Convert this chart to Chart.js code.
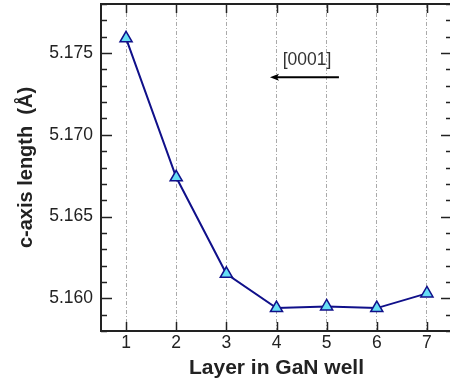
<!DOCTYPE html>
<html>
<head>
<meta charset="utf-8">
<script src="https://cdn.jsdelivr.net/npm/chart.js"></script>
<style>
html,body{margin:0;padding:0;background:#fff;overflow:hidden;}
#wrap{width:455px;height:385px;}
</style>
</head>
<body>
<div id="wrap"><canvas id="c" width="455" height="385"></canvas></div>
<script>
// -------- data --------
const layers = ['1', '2', '3', '4', '5', '6', '7'];
const cAxis = [5.1759, 5.1674, 5.1615, 5.1594, 5.1595, 5.1594, 5.1603];
const yRange = [5.158, 5.178];
const yStep = 0.001;          // one tick mark per step, label every 5th
const arrowFrom = [4.245, 5.17352];   // [layer index, c value]
const arrowTo = [2.87, 5.17352];
const arrowText = '[0001]';
const arrowTextAt = [3.61, 5.17455];

const FONT = "'Liberation Sans', Arial, sans-serif";
const INK = '#222';

// ticks pointing inward on all four sides + frame + the [0001] arrow
const framePlugin = {
    id: 'frame',
    afterDraw(chart){
        const {ctx, chartArea: a, scales: {x, y}} = chart;
        const seg = (x1, y1, x2, y2) => { ctx.beginPath(); ctx.moveTo(x1, y1); ctx.lineTo(x2, y2); ctx.stroke(); };
        ctx.save();
        ctx.strokeStyle = INK;
        ctx.lineWidth = 1.5;
        y.ticks.forEach(t => {
            const py = Math.round(y.getPixelForValue(t.value)) + 0.5;
            const major = Math.round(t.value * 1000) % 5 === 0;
            const len = major ? 11 : 6;
            seg(a.left, py, a.left + len, py);
            seg(a.right, py, a.right - len, py);
        });
        x.ticks.forEach((t, i) => {
            const px = Math.round(x.getPixelForTick(i)) + 0.5;
            seg(px, a.top, px, a.top + 9);
            seg(px, a.bottom, px, a.bottom - 9);
        });
        ctx.lineWidth = 2;
        ctx.strokeRect(a.left, a.top, a.right - a.left, a.bottom - a.top);

        // arrow
        const x1 = x.getPixelForValue(arrowFrom[0]), y1 = y.getPixelForValue(arrowFrom[1]);
        const x2 = x.getPixelForValue(arrowTo[0]), y2 = y.getPixelForValue(arrowTo[1]);
        ctx.fillStyle = '#000';
        ctx.strokeStyle = '#000';
        ctx.lineWidth = 2;
        seg(x1, y1, x2 + 6, y2);
        ctx.beginPath();
        ctx.moveTo(x2, y2);
        ctx.lineTo(x2 + 9, y2 - 3.5);
        ctx.lineTo(x2 + 7, y2);
        ctx.lineTo(x2 + 9, y2 + 3.5);
        ctx.closePath();
        ctx.fill();

        ctx.fillStyle = '#333';
        ctx.font = '17.5px ' + FONT;
        ctx.textAlign = 'center';
        ctx.textBaseline = 'middle';
        ctx.fillText(arrowText, x.getPixelForValue(arrowTextAt[0]), y.getPixelForValue(arrowTextAt[1]));
        ctx.restore();
    }
};

new Chart(document.getElementById('c'), {
    type: 'line',
    data: {
        labels: layers,
        datasets: [{
            data: cAxis,
            borderColor: '#10108a',
            borderWidth: 2,
            tension: 0,
            pointStyle: 'triangle',
            pointRadius: 7,
            pointHoverRadius: 7,
            pointBackgroundColor: '#66def5',
            pointBorderColor: '#10108a',
            pointBorderWidth: 1.5,
            clip: false
        }]
    },
    options: {
        responsive: false,
        animation: false,
        events: [],
        layout: {autoPadding: false, padding: {top: 4, right: 3, left: 0, bottom: 0}},
        plugins: {legend: {display: false}, tooltip: {enabled: false}},
        scales: {
            x: {
                type: 'category',
                offset: true,
                grid: {offset: false, color: '#aaa', lineWidth: 1, drawTicks: false},
                border: {display: false, dash: [4, 2, 1, 2]},
                ticks: {color: INK, padding: 2, font: {family: FONT, size: 17.5}, maxRotation: 0},
                title: {display: true, text: 'Layer in GaN well', color: INK,
                        font: {family: FONT, size: 21, weight: 'bold'}, padding: {top: 0, bottom: 4}},
                afterFit: s => { s.height = 54; s.paddingLeft = 0; s.paddingRight = 0; }
            },
            y: {
                min: yRange[0],
                max: yRange[1],
                grid: {display: false, drawTicks: false},
                border: {display: false},
                ticks: {
                    stepSize: yStep,
                    maxTicksLimit: 100,
                    autoSkip: false,
                    color: INK,
                    padding: 8,
                    font: {family: FONT, size: 17.5},
                    callback: v => Math.round(v * 1000) % 5 === 0 ? v.toFixed(3) : ''
                },
                title: {display: true, text: 'c-axis length  (Å)', color: INK,
                        font: {family: FONT, size: 20, weight: 'bold'}, padding: {top: 14, bottom: 0}},
                afterFit: s => { s.width = 101; s.paddingTop = 0; s.paddingBottom = 0; }
            }
        }
    },
    plugins: [framePlugin]
});
</script>
</body>
</html>
